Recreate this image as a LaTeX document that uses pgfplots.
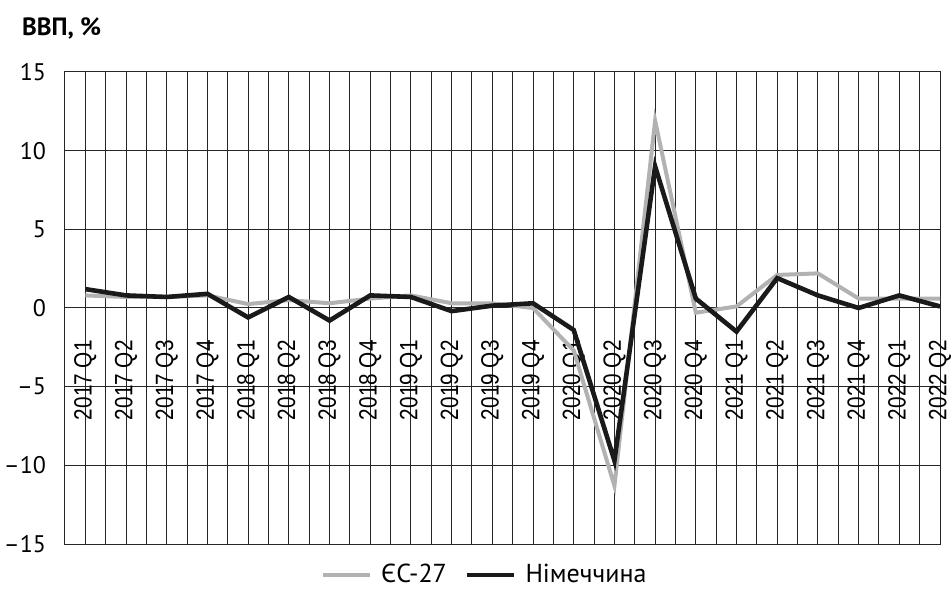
\documentclass[border=0pt]{standalone}
\usepackage{fontspec}
\setmainfont{PT Sans}
\newfontfamily\narrowfont[FakeStretch=0.83]{Liberation Sans}
\usepackage{pgfplots}
\usepackage{pgfplotstable}
\pgfplotsset{compat=1.18}

\definecolor{eugrey}{HTML}{B2B2B4}
\definecolor{deblack}{HTML}{1A1A1A}
\definecolor{gridc}{HTML}{262626}

% quarter index, EU-27, Germany (GDP, % q/q)
\pgfplotstableread{
idx eu de
0  0.8  1.2
1  0.7  0.8
2  0.7  0.7
3  0.8  0.9
4  0.25 -0.6
5  0.5  0.7
6  0.3  -0.8
7  0.6  0.8
8  0.8  0.7
9  0.3  -0.2
10 0.3  0.15
11 0.0  0.3
12 -2.7 -1.4
13 -11.3 -9.7
14 11.9 9.0
15 -0.3 0.6
16 0.1  -1.5
17 2.1  1.9
18 2.2  0.8
19 0.6  0.0
20 0.6  0.8
21 0.6  0.1
}\gdpdata

\begin{document}
\begin{tikzpicture}
\useasboundingbox (-32.5pt,-30pt) rectangle (443pt,272pt);
\begin{axis}[
  at={(0,0)}, anchor=south west,
  width=437.5pt, height=236pt, scale only axis,
  xmin=-0.5, xmax=21, ymin=-15, ymax=15,
  xtick={0,...,21},
  minor xtick={-0.5,0.5,...,20.5},
  xticklabels={2017 Q1,2017 Q2,2017 Q3,2017 Q4,2018 Q1,2018 Q2,2018 Q3,2018 Q4,2019 Q1,2019 Q2,2019 Q3,2019 Q4,2020 Q1,2020 Q2,2020 Q3,2020 Q4,2021 Q1,2021 Q2,2021 Q3,2021 Q4,2022 Q1,2022 Q2},
  ytick={-15,-10,...,15},
  yticklabels={–15,–10,–5,0,5,10,15},
  grid=both,
  grid style={gridc, line width=0.5pt},
  minor grid style={gridc, line width=0.5pt},
  major grid style={gridc, line width=0.5pt},
  major tick length=0pt, minor tick length=0pt,
  axis line style={gridc, line width=0.5pt},
  xticklabel style={rotate=90, anchor=east, inner sep=0pt, font=\narrowfont\fontsize{12.5}{14}\selectfont},
  xticklabel shift=-102pt,
  yticklabel style={font=\fontsize{12}{14}\selectfont, xshift=-6pt},
  legend style={at={(0.481,-0.066)}, anchor=center, draw=none, fill=none,
    legend columns=2, font=\fontsize{13}{15}\selectfont,
    /tikz/every odd column/.append style={column sep=2.5pt},
    /tikz/every even column/.append style={column sep=7pt}},
  legend image code/.code={\draw[#1] (0pt,0pt) -- (23.5pt,0pt);},
  clip=false,
]
\addplot[eugrey, line width=2pt] table[x=idx, y=eu] {\gdpdata};
\addlegendentry{ЄС-27}
\addplot[deblack, line width=2.3pt] table[x=idx, y=de] {\gdpdata};
\addlegendentry{Німеччина}
\node[anchor=west, xshift=-25pt, yshift=22pt, font=\bfseries\fontsize{12.5}{14}\selectfont] at (rel axis cs:0,1) {ВВП, \%};
\end{axis}
\end{tikzpicture}
\end{document}
